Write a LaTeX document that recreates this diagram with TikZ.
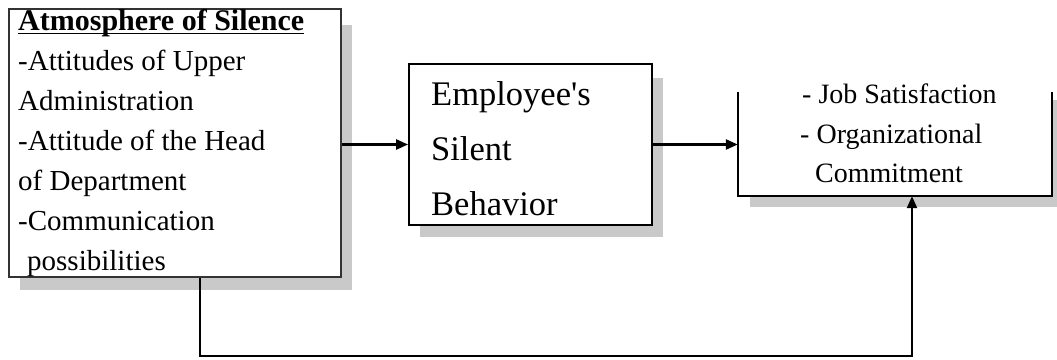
\documentclass[tikz,border=0pt]{standalone}
\usepackage{fontspec}
\setmainfont{Liberation Serif}
\usetikzlibrary{arrows.meta}
\begin{document}
\begin{tikzpicture}[x=1pt,y=-1pt,
  shadowfill/.style={fill=gray!42, draw=none},
  boxline/.style={draw=black, line width=1.8pt},
  conn/.style={line width=2.4pt, -{Triangle[length=12pt,width=10pt]}},
  txt/.style={anchor=base west, inner sep=0pt},
  ltxt/.style={txt, font=\fontsize{29pt}{35pt}\selectfont},
  mtxt/.style={txt, font=\fontsize{34.5pt}{40pt}\selectfont},
  rtxt/.style={txt, font=\fontsize{28pt}{34pt}\selectfont},
  ]
\useasboundingbox[fill=white] (0,0) rectangle (1057,359);
% shadows
\fill[shadowfill] (341,25) rectangle (352,290);
\fill[shadowfill] (20,277) rectangle (352,290);
\fill[shadowfill] (652,78) rectangle (663,237);
\fill[shadowfill] (420,225) rectangle (663,237);
\fill[shadowfill] (750,196) rectangle (1057,207);
\fill[shadowfill] (1052,100) rectangle (1057,207);
% boxes
\node[boxline, draw=black!80, fill=white, minimum width=332pt, minimum height=268pt, inner sep=0pt] (a) at (175,143) {};
\node[boxline, fill=white, minimum width=243pt, minimum height=161pt, inner sep=0pt] (b) at (530.5,144.5) {};
\node[draw=none, minimum width=314pt, minimum height=104pt, inner sep=0pt] (r) at (895,144) {};
\draw[boxline] (r.north west) -- (r.south west) -- (r.south east) -- (r.north east);
% left texts
\node[ltxt, font=\fontsize{30pt}{35pt}\selectfont\bfseries] (a1) at (18,30) {Atmosphere of Silence};
\draw[line width=1.8pt] ([yshift=-3.5pt]a1.base west) -- ([yshift=-3.5pt]a1.base east);
\node[ltxt] (a2) at (18,70) {-Attitudes of Upper};
\node[ltxt] (a3) at (18,110) {Administration};
\node[ltxt] (a4) at (18,150) {-Attitude of the Head};
\node[ltxt] (a5) at (18,190) {of Department};
\node[ltxt] (a6) at (18,230) {-Communication};
\node[ltxt] (a7) at (27,270) {possibilities};
% middle texts
\node[mtxt] (b1) at (431,105) {Employee\textquotesingle s};
\node[mtxt] (b2) at (431,160) {Silent};
\node[mtxt] (b3) at (431,215) {Behavior};
% right texts
\node[rtxt] (r1) at (802,103) {- Job Satisfaction};
\node[rtxt] (r2) at (800,143) {- Organizational};
\node[rtxt] (r3) at (815,182) {Commitment};
% connectors
\coordinate (lp1) at (200,356);
\coordinate (lp2) at (912,356);
\draw[conn] (a.east |- b.west) -- (b.west);
\draw[conn] (b.east) -- (r.west |- b.east);
\draw[conn] (a.south -| lp1) -- (lp1) -- (lp2) -- (r.south -| lp2);
\end{tikzpicture}
\end{document}
